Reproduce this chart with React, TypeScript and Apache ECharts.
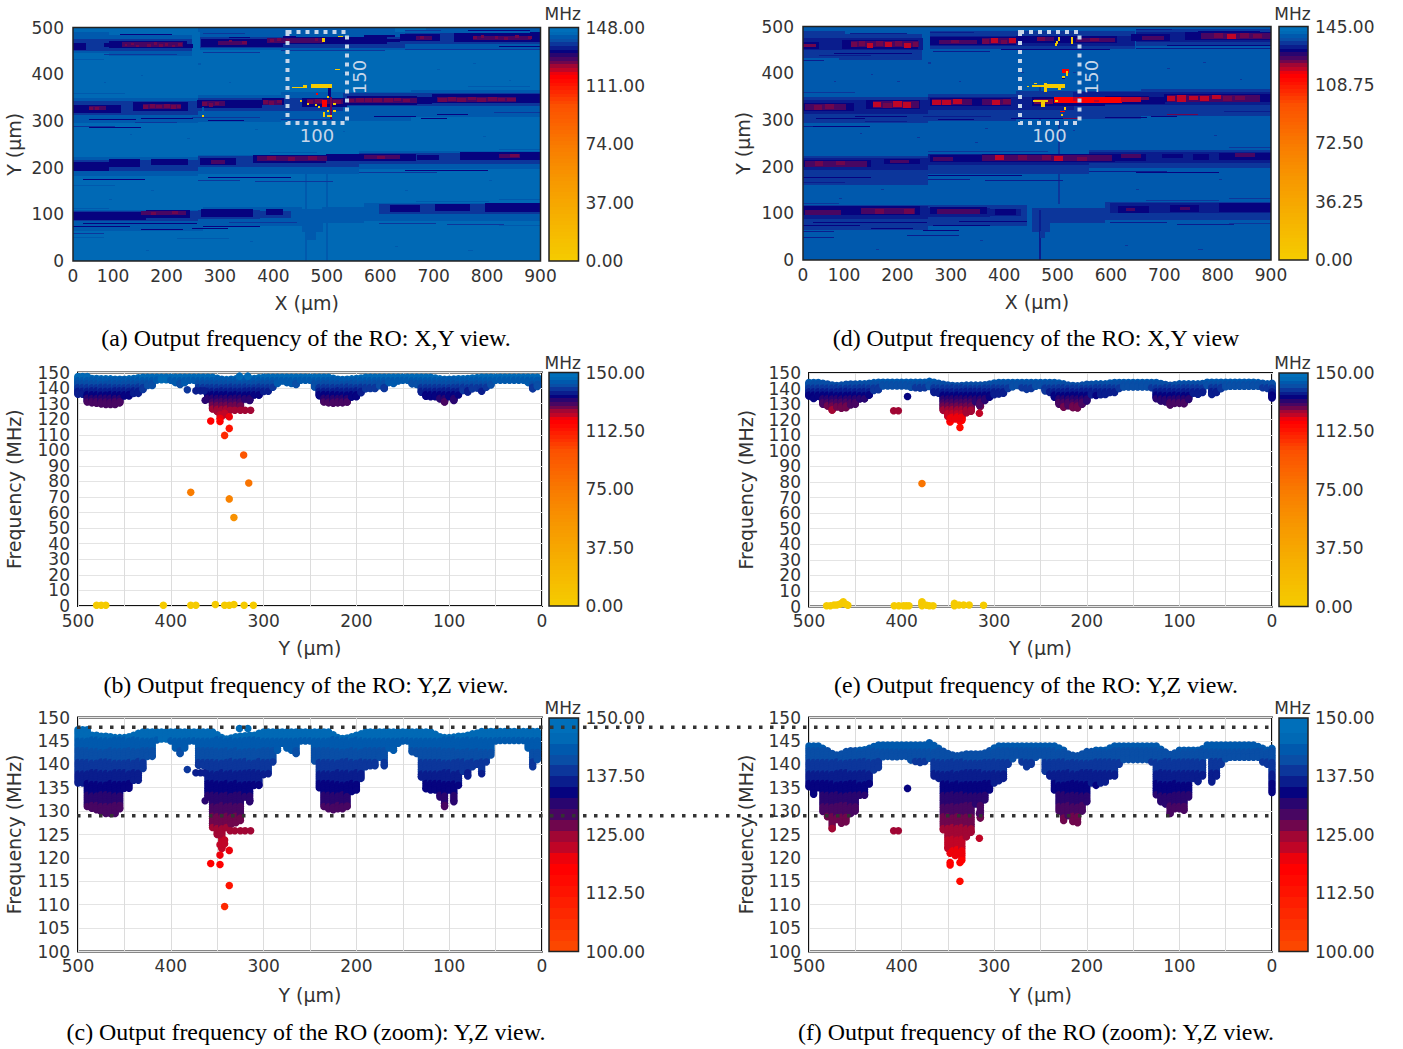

import React, { useEffect, useRef } from "react";
import * as echarts from "echarts";

// ---------- colour scale (MHz on a 0-150 scale, colour) ----------
const paletteValues = [0, 25, 50, 75, 100, 118, 120, 122, 125, 127, 129, 132, 134.5, 137, 139, 141, 144, 146, 150];
const paletteColors = ["#F5CC00", "#F6B400", "#F79A00", "#F97A00", "#FC5000", "#FF0000", "#FF0000", "#CC0420", "#AA0630", "#7E0645", "#55065C", "#30066C", "#06007E", "#0A1C8C", "#0C3098", "#0C4AA4", "#0058AC", "#0068B4", "#0072BC"];
const paletteSteps = 64;

// ---------- heat map runs: x from, x to, y from, y to, level ----------
const levelsA = [144.5, 142, 138.2, 132.7, 126.5, 116, 0, 121, 129.2];
const levelsD = [139.5, 135.5, 133, 130, 122.8, 114, 0, 119.5, 126.7];

const heatRunsA = [
  [0, 900, 0, 500, 0],
  [240, 620, 492, 500, 1], [680, 900, 494, 500, 1],
  [0, 70, 445, 490, 1], [70, 230, 440, 485, 1], [245, 640, 452, 490, 1], [640, 900, 455, 495, 1],
  [0, 240, 296, 350, 1], [240, 400, 298, 356, 1], [400, 650, 300, 362, 1], [650, 900, 308, 366, 1],
  [0, 240, 182, 222, 1], [240, 550, 186, 226, 1], [550, 900, 197, 236, 1],
  [0, 250, 66, 110, 1], [250, 440, 74, 115, 1], [440, 480, 62, 112, 1], [480, 560, 80, 115, 1], [560, 900, 86, 124, 1],
  [447, 451, 0, 210, 1], [487, 491, 0, 210, 1], [450, 468, 45, 62, 1],
  [60, 64, 380, 383, 1], [130, 134, 395, 398, 1], [240, 245, 420, 424, 1], [300, 304, 380, 383, 1], [520, 525, 400, 403, 1], [700, 706, 408, 411, 1], [770, 776, 420, 423, 1], [840, 844, 385, 388, 1],
  [110, 114, 270, 273, 1], [220, 225, 260, 263, 1], [350, 355, 280, 283, 1], [520, 524, 275, 278, 1], [790, 796, 265, 268, 1], [800, 806, 170, 173, 1], [150, 156, 150, 153, 1], [70, 76, 130, 133, 1],
  [640, 646, 150, 153, 1], [340, 346, 40, 43, 1], [620, 626, 30, 33, 1], [140, 146, 20, 23, 1], [760, 770, 20, 23, 1],
  [0, 230, 450, 476, 2], [245, 640, 457, 480, 2], [640, 900, 464, 488, 2],
  [0, 240, 314, 343, 2], [240, 520, 320, 348, 2], [520, 900, 332, 360, 2],
  [0, 240, 192, 216, 2], [240, 550, 200, 224, 2], [550, 900, 208, 232, 2],
  [0, 240, 84, 106, 2], [240, 360, 90, 110, 2], [360, 420, 94, 108, 2], [590, 900, 100, 122, 2],
  // thin streaks
  [90, 190, 484, 486, 3], [60, 200, 442, 444, 2], [250, 360, 446, 448, 2], [400, 600, 450, 452, 2], [640, 900, 452, 454, 2],
  [250, 330, 486, 488, 2], [640, 710, 492, 494, 2], [760, 880, 492, 494, 3], [0, 60, 430, 432, 1], [820, 900, 458, 460, 3],
  [30, 120, 302, 304, 3], [130, 230, 304, 306, 3], [0, 80, 288, 290, 2], [30, 130, 286, 288, 3], [260, 330, 300, 302, 3],
  [120, 200, 296, 298, 2], [580, 660, 308, 310, 3], [700, 760, 312, 314, 3], [670, 720, 304, 306, 3], [810, 900, 318, 320, 2],
  [230, 360, 306, 308, 2], [400, 500, 302, 304, 2], [0, 100, 358, 360, 1], [760, 880, 372, 374, 1],
  [20, 140, 174, 176, 3], [240, 320, 172, 174, 2], [260, 420, 178, 180, 3], [350, 500, 170, 172, 2], [0, 80, 160, 162, 1],
  [550, 700, 188, 190, 2], [640, 800, 192, 194, 3], [820, 900, 238, 240, 1], [380, 470, 232, 234, 1],
  [0, 70, 112, 114, 1], [0, 110, 74, 76, 3], [20, 240, 80, 82, 3], [0, 60, 58, 60, 2], [130, 210, 66, 68, 3], [230, 300, 68, 70, 3],
  [250, 360, 74, 76, 3], [300, 430, 82, 84, 2], [590, 700, 80, 82, 2], [720, 830, 78, 80, 2], [820, 900, 76, 78, 1],
  [660, 800, 126, 128, 1], [820, 900, 130, 132, 1], [0, 60, 50, 52, 1], [200, 300, 48, 50, 1],
  // dark bands
  [0, 25, 452, 466, 3], [70, 220, 455, 471, 3], [247, 405, 459, 476, 3], [405, 605, 466, 480, 3], [630, 707, 470, 486, 3], [733, 900, 468, 488, 3],
  [60, 75, 458, 466, 3], [220, 232, 456, 464, 3], [300, 340, 476, 479, 3], [405, 430, 478, 482, 3], [560, 620, 478, 483, 3], [605, 630, 470, 476, 3], [880, 900, 486, 490, 3],
  [0, 93, 318, 335, 3], [116, 222, 321, 340, 3], [238, 363, 328, 345, 3], [363, 405, 332, 348, 3], [440, 527, 331, 350, 3], [527, 662, 335, 354, 3], [662, 691, 336, 352, 3], [691, 900, 338, 357, 3],
  [0, 70, 194, 213, 3], [70, 130, 201, 218, 3], [150, 222, 205, 218, 3], [245, 315, 204, 220, 3], [347, 488, 209, 226, 3], [488, 662, 214, 230, 3], [662, 705, 216, 226, 3], [745, 900, 216, 233, 3],
  [0, 141, 87, 105, 3], [141, 225, 92, 110, 3], [247, 347, 94, 112, 3], [372, 405, 98, 111, 3], [611, 668, 103, 119, 3], [697, 765, 108, 122, 3], [794, 900, 105, 124, 3],
  // purple cores
  [95, 212, 457, 468, 8], [280, 335, 463, 472, 8], [373, 480, 467, 477, 8], [660, 690, 473, 481, 8], [770, 882, 474, 482, 8],
  [30, 62, 322, 331, 8], [135, 208, 326, 337, 8], [248, 292, 331, 342, 8], [365, 402, 335, 345, 8], [450, 520, 335, 346, 8], [530, 662, 339, 350, 8], [700, 852, 342, 352, 8],
  [355, 490, 213, 224, 8], [560, 630, 219, 227, 8], [820, 860, 221, 229, 8], [265, 292, 208, 216, 8], [130, 216, 97, 106, 8],
  // maroon parts
  [100, 104, 460, 464, 4], [112, 118, 462, 467, 4], [122, 128, 458, 463, 4], [142, 150, 459, 465, 4], [155, 160, 462, 468, 4], [165, 172, 458, 464, 4], [178, 184, 461, 467, 4], [190, 196, 458, 463, 4], [202, 210, 460, 466, 4],
  [300, 306, 468, 473, 4], [325, 335, 466, 472, 4], [380, 388, 468, 475, 4], [392, 400, 470, 477, 4], [410, 418, 470, 476, 4], [465, 470, 472, 478, 4], [668, 675, 476, 482, 4],
  [770, 778, 476, 482, 4], [785, 790, 478, 484, 4], [812, 818, 476, 482, 4], [830, 838, 474, 480, 4], [850, 858, 477, 483, 4], [875, 882, 476, 482, 4],
  [30, 38, 324, 330, 4], [42, 50, 322, 329, 4], [135, 145, 326, 334, 4], [148, 158, 328, 336, 4], [160, 172, 327, 333, 4], [175, 186, 329, 337, 4], [188, 198, 326, 334, 4], [200, 208, 329, 335, 4],
  [248, 258, 333, 341, 4], [262, 270, 331, 339, 4], [274, 282, 334, 341, 4], [365, 375, 337, 345, 4], [378, 388, 335, 343, 4], [392, 402, 337, 344, 4],
  [450, 462, 336, 344, 4], [465, 480, 338, 346, 4], [500, 515, 336, 344, 4], [530, 542, 340, 347, 4], [545, 560, 342, 350, 4], [562, 575, 339, 348, 4], [578, 595, 342, 350, 4], [598, 615, 340, 348, 4], [618, 632, 343, 350, 4], [635, 648, 340, 347, 4],
  [702, 720, 342, 350, 4], [722, 738, 344, 352, 4], [740, 758, 342, 350, 4], [760, 775, 344, 351, 4], [778, 795, 342, 350, 4], [798, 815, 344, 352, 4], [818, 832, 342, 349, 4], [835, 852, 344, 350, 4],
  [374, 392, 216, 224, 4], [414, 428, 215, 223, 4], [452, 470, 216, 224, 4], [585, 600, 219, 225, 4],
  [842, 860, 222, 229, 4], [150, 160, 99, 105, 4], [190, 202, 100, 106, 4],
  // spots in the failing region
  [422, 443, 371, 373, 6], [443, 451, 371, 377, 6], [458, 498, 371, 380, 6], [490, 495, 352, 371, 3],
  [480, 485, 469, 478, 6], [510, 519, 479, 482, 6], [505, 514, 408, 411, 6], [468, 472, 355, 359, 5],
  [479, 488, 330, 345, 5], [494, 498, 305, 352, 4], [437, 440, 340, 344, 6], [450, 453, 334, 338, 6], [465, 469, 332, 336, 6], [472, 476, 328, 332, 6],
  [489, 493, 350, 354, 6], [500, 505, 334, 338, 6], [489, 493, 319, 323, 6], [500, 505, 319, 323, 6], [481, 484, 309, 320, 6], [489, 498, 309, 313, 6],
  [249, 252, 309, 313, 6], [249, 252, 314, 330, 1],
];

const heatRunsD = [
  [0, 900, 0, 500, 0],
  [0, 80, 432, 490, 1], [70, 230, 430, 485, 1], [245, 640, 452, 490, 1], [640, 900, 458, 495, 1],
  [0, 240, 294, 350, 1], [240, 410, 298, 356, 1], [410, 650, 302, 362, 1], [650, 900, 308, 366, 1],
  [0, 240, 160, 222, 1], [240, 550, 186, 228, 1], [550, 900, 198, 236, 1],
  [0, 240, 64, 118, 1], [240, 430, 72, 118, 1], [440, 475, 60, 112, 1], [475, 580, 80, 112, 1], [580, 900, 86, 124, 1],
  [453, 457, 0, 108, 2], [490, 493, 120, 300, 1], [453, 457, 300, 370, 1], [456, 466, 48, 62, 1],
  [60, 64, 380, 383, 1], [130, 134, 395, 398, 1], [240, 245, 420, 424, 1], [300, 304, 380, 383, 1], [520, 525, 400, 403, 1], [700, 706, 408, 411, 1], [770, 776, 420, 423, 1], [840, 844, 385, 388, 1],
  [110, 114, 270, 273, 1], [220, 225, 260, 263, 1], [350, 355, 280, 283, 1], [520, 524, 275, 278, 1], [790, 796, 265, 268, 1], [800, 806, 170, 173, 1], [150, 156, 150, 153, 1], [70, 76, 130, 133, 1],
  [640, 646, 150, 153, 1], [340, 346, 40, 43, 1], [620, 626, 30, 33, 1], [140, 146, 20, 23, 1], [760, 770, 20, 23, 1], [420, 426, 400, 403, 1], [180, 186, 380, 383, 1], [330, 336, 250, 253, 1],
  [0, 230, 450, 476, 2], [245, 640, 458, 480, 2], [640, 900, 466, 488, 2],
  [0, 240, 314, 343, 2], [240, 520, 320, 348, 2], [520, 900, 332, 360, 2],
  [0, 240, 192, 218, 2], [240, 550, 202, 226, 2], [550, 900, 208, 232, 2],
  [0, 240, 88, 116, 2], [240, 360, 92, 112, 2], [360, 420, 94, 110, 2], [590, 900, 100, 122, 2],
  // thin streaks
  [90, 200, 484, 487, 2], [60, 210, 442, 444, 3], [250, 360, 446, 448, 2], [380, 590, 450, 452, 3], [640, 900, 452, 454, 2],
  [245, 330, 486, 488, 2], [640, 710, 492, 494, 2], [760, 880, 488, 490, 3], [0, 40, 425, 428, 2], [700, 900, 458, 460, 3], [30, 130, 438, 440, 2],
  [25, 120, 302, 304, 3], [100, 200, 306, 308, 3], [0, 80, 286, 288, 2], [20, 130, 284, 286, 3], [260, 330, 300, 302, 3],
  [120, 200, 296, 298, 2], [580, 660, 304, 306, 3], [700, 760, 310, 312, 4], [670, 720, 306, 308, 3], [810, 900, 318, 320, 2],
  [230, 360, 306, 308, 2], [400, 500, 302, 304, 3], [500, 530, 302, 304, 4], [0, 100, 358, 360, 1],
  [0, 130, 176, 178, 3], [240, 320, 172, 174, 2], [240, 420, 180, 182, 3], [350, 500, 170, 172, 2], [0, 80, 166, 168, 2],
  [550, 700, 188, 190, 2], [640, 800, 186, 188, 3], [820, 900, 240, 242, 1], [240, 470, 232, 234, 1],
  [0, 70, 120, 122, 1], [0, 110, 74, 76, 3], [20, 240, 80, 82, 3], [0, 60, 60, 62, 2], [130, 210, 66, 68, 3], [230, 300, 62, 64, 3],
  [250, 360, 74, 76, 3], [300, 430, 82, 84, 3], [590, 700, 80, 82, 2], [720, 830, 76, 78, 2], [820, 900, 78, 80, 1],
  [660, 800, 126, 128, 1], [820, 900, 130, 132, 1], [0, 60, 48, 50, 2], [200, 300, 52, 54, 2],
  // dark bands
  [0, 30, 450, 466, 3], [75, 222, 452, 471, 3], [245, 410, 460, 478, 3], [410, 605, 466, 480, 3], [630, 705, 470, 484, 3], [735, 900, 470, 488, 3],
  [0, 98, 318, 336, 3], [122, 225, 322, 342, 3], [245, 400, 328, 346, 3], [440, 580, 330, 350, 3], [580, 665, 335, 352, 3], [665, 695, 336, 350, 3], [695, 900, 338, 356, 3],
  [0, 130, 198, 214, 3], [155, 225, 205, 216, 3], [245, 345, 208, 224, 3], [345, 600, 208, 226, 3], [600, 660, 214, 228, 3], [690, 730, 218, 226, 3], [750, 780, 216, 228, 3], [800, 900, 215, 230, 3],
  [0, 225, 95, 115, 3], [245, 355, 97, 113, 3], [370, 410, 97, 110, 3], [605, 665, 102, 116, 3], [705, 760, 103, 118, 3], [800, 900, 103, 122, 3],
  // purple cores
  [92, 222, 455, 468, 8], [262, 335, 464, 472, 8], [345, 410, 463, 476, 8], [450, 482, 469, 477, 8], [525, 600, 468, 476, 8], [652, 695, 472, 480, 8], [765, 900, 474, 486, 8],
  [4, 82, 321, 333, 8], [135, 224, 325, 340, 8], [248, 325, 331, 344, 8], [345, 400, 332, 344, 8], [445, 482, 334, 345, 8], [700, 878, 340, 354, 8],
  [4, 124, 200, 213, 8], [168, 205, 208, 214, 8], [250, 288, 212, 220, 8], [345, 595, 212, 224, 8], [612, 650, 218, 226, 8], [830, 868, 221, 229, 8],
  [4, 74, 98, 108, 8], [112, 215, 100, 112, 8], [258, 340, 100, 110, 8], [622, 640, 106, 112, 8], [725, 745, 107, 114, 8],
  // maroon and crimson parts
  [0, 25, 455, 462, 4], [92, 104, 456, 466, 4], [108, 120, 458, 468, 4], [124, 136, 455, 465, 7], [140, 154, 457, 468, 4], [158, 172, 455, 466, 7], [176, 190, 458, 468, 4], [194, 208, 455, 465, 7], [212, 222, 457, 467, 4],
  [345, 358, 463, 474, 4], [362, 375, 465, 476, 7], [380, 392, 464, 472, 4], [396, 410, 466, 476, 7], [285, 300, 466, 472, 4], [450, 465, 469, 477, 4], [552, 570, 470, 476, 4],
  [790, 808, 476, 486, 4], [815, 832, 474, 484, 7], [840, 858, 476, 486, 4], [865, 882, 475, 483, 4],
  [22, 38, 321, 331, 4], [42, 60, 323, 333, 4],
  [135, 150, 327, 338, 7], [153, 170, 325, 336, 4], [173, 190, 328, 340, 7], [193, 208, 326, 338, 7],
  [248, 265, 332, 343, 7], [268, 285, 331, 342, 7], [288, 305, 333, 344, 7], [364, 380, 332, 342, 7], [384, 400, 334, 344, 4], [445, 482, 334, 345, 4],
  [482, 612, 336, 349, 5], [520, 532, 340, 349, 7], [560, 570, 337, 342, 7], [612, 650, 340, 350, 7], [650, 665, 342, 349, 4],
  [700, 716, 342, 352, 7], [720, 738, 340, 354, 7], [742, 760, 343, 352, 7], [764, 782, 341, 352, 7], [786, 804, 344, 353, 7], [808, 826, 341, 351, 4], [830, 850, 343, 352, 4],
  [24, 40, 203, 213, 4], [64, 82, 203, 212, 4], [370, 388, 214, 224, 7], [414, 432, 214, 224, 4], [460, 478, 214, 224, 4], [482, 500, 212, 222, 7], [526, 545, 212, 221, 4],
  [138, 155, 100, 110, 4], [195, 215, 100, 110, 4],
  // spots in the failing region
  [470, 505, 368, 376, 6], [440, 470, 370, 374, 6], [430, 433, 370, 372, 6], [445, 450, 375, 378, 6], [463, 468, 360, 380, 6], [490, 495, 365, 373, 6],
  [490, 494, 470, 478, 6], [486, 490, 464, 470, 6], [484, 487, 458, 464, 6], [515, 518, 462, 478, 6],
  [498, 512, 400, 408, 5], [505, 509, 395, 405, 6], [498, 503, 390, 395, 6], [498, 504, 387, 390, 3],
  [443, 472, 338, 342, 6], [458, 466, 328, 340, 6], [485, 490, 338, 342, 6], [501, 505, 322, 328, 6], [496, 500, 307, 312, 6], [495, 505, 316, 318, 5],
];

// ---------- Y,Z views: column every 5 um from Y=500 down ----------
const columnYs = [500, 495, 490, 485, 480, 475, 470, 465, 460, 455, 450, 445, 440, 435, 430, 425, 420, 415, 410, 405, 400, 395, 390, 385, 380, 375, 370, 365, 360, 355, 350, 345, 340, 335, 330, 325, 320, 315, 310, 305, 300, 295, 290, 285, 280, 275, 270, 265, 260, 255, 250, 245, 240, 235, 230, 225, 220, 215, 210, 205, 200, 195, 190, 185, 180, 175, 170, 165, 160, 155, 150, 145, 140, 135, 130, 125, 120, 115, 110, 105, 100, 95, 90, 85, 80, 75, 70, 65, 60, 55, 50, 45, 40, 35, 30, 25, 20, 15, 10, 5, 0];

const upperLeft = [147.4, 147.4, 147.4, 146.2, 146.2, 146, 146, 145.9, 145.7, 145.7, 145.7, 145.9, 146.2, 146.6, 146.9, 146.9, 146.9, 146.9, 146.9, 146.9, 146.9, 146.9, 146.9, 146.9, 146.9, 146.9, 146.9, 146.9, 146.9, 146.9, 146.3, 145.7, 145.4, 145.6, 145.9, 146, 146.1, 146.2, 146.2, 146.6, 146.9, 146.9, 146.9, 146.9, 146.9, 146.9, 146.9, 146.9, 146.9, 146.9, 146.9, 146.9, 146.9, 146.9, 146.9, 146.3, 145.7, 145.5, 145.6, 145.9, 146.2, 146.5, 146.9, 146.9, 146.9, 146.9, 146.9, 146.9, 146.9, 146.9, 146.9, 146.9, 146.9, 146.9, 146.9, 146.9, 146.9, 146.4, 145.9, 145.7, 145.7, 145.8, 146, 146, 146.2, 146.5, 146.7, 147, 147, 147, 147, 147, 147, 147, 147, 147, 147, 147, 147, 147];
const lowerLeft = [136, 136, 131, 130.6, 130.3, 129.9, 129.5, 129.5, 129.5, 130.5, 134.9, 134.9, 136.6, 136.6, 139.1, 141.7, 141.7, 145.2, 145.4, 145.4, 145, 143.5, 142.3, 143.5, 145, 145, 139.8, 139.8, 133, 126.5, 125, 122, 126.5, 127.2, 127.5, 128, 133, 132, 135.5, 135.5, 137.8, 138, 140.5, 143, 144.5, 143.5, 143, 142.3, 145, 145, 145, 140.7, 135, 131, 130.5, 130.3, 130.5, 130.5, 131, 134.2, 134.5, 137, 139.5, 139.7, 139.7, 141.5, 139.7, 143.5, 143, 144.5, 145, 145, 142.7, 142.3, 137.3, 134.8, 134.5, 134.5, 133, 131, 134.5, 132, 135.5, 138.5, 137.5, 139.5, 140, 138, 140.5, 142, 145, 145.1, 145.1, 145.1, 145.1, 145.1, 145.1, 143.5, 139.5, 141];
const upperRight = [143.9, 143.9, 143.9, 143.4, 142.9, 142.3, 142, 142.2, 142.7, 142.9, 142.9, 143, 143.1, 143.4, 143.8, 144.1, 144.1, 144.1, 144.1, 144.1, 144.1, 144.1, 144.1, 144.1, 144.1, 144.1, 144.6, 144, 143.4, 142.8, 142.3, 142, 141.8, 142, 142.2, 142.2, 142.2, 142.2, 142.4, 142.9, 143.5, 143.9, 143.9, 143.9, 143.9, 143.9, 143.9, 143.9, 143.9, 143.9, 143.9, 143.9, 143.9, 143.9, 143.5, 143, 142.2, 141.9, 141.8, 142.2, 142.7, 142.7, 143, 143, 143, 143.5, 143.9, 143.9, 143.9, 143.9, 143.9, 143.9, 143.9, 143.9, 143.9, 143.9, 143.2, 142.6, 142.1, 142.4, 143, 143, 143, 143, 143, 143.3, 144.1, 144.1, 144.1, 144.1, 144.1, 144.1, 144.1, 144.1, 144.1, 144.1, 144.1, 143.8, 143.4, 143, 143.4];
const lowerRight = [135.2, 133.6, 135, 129.9, 128.8, 126.3, 128.2, 127.4, 127.7, 129.5, 130, 133.4, 133.4, 135.8, 138.8, 139.3, 141.6, 141.7, 141.6, 141.6, 141.7, 141.7, 140.9, 140.6, 140.4, 140.6, 141.3, 137.5, 137, 126, 122, 121.5, 121, 119.5, 124.5, 125.5, 131.5, 128.5, 132.4, 134.5, 136, 136.5, 137, 140, 141.2, 142, 140.5, 139.5, 140, 141.5, 142, 138.5, 137.5, 134.5, 130, 128, 129, 127.8, 127.5, 130, 132, 136, 135.5, 136, 136.2, 137.5, 137.5, 140, 141, 141, 141, 141, 141, 141, 140.5, 133.5, 132, 131.5, 129.5, 130.5, 130.5, 130.2, 133, 137, 136.3, 137.5, 142, 136.2, 137.5, 140, 141.2, 141.5, 141.5, 141.5, 141.5, 141.5, 141.5, 141.5, 140.5, 140, 134];

const isolatedLeft = [
  [326, 147.65], [317, 147.65], [382.2, 138.9], [373, 138.2], [368, 138.2], [364, 138.2], [315, 132.3], [363, 132.2],
  [336, 125.8], [331, 125.8], [325, 125.8], [320, 125.8], [314, 125.8], [347, 125], [342, 123.8], [347, 122.8], [342, 123], [337, 121.6],
  [347, 120.6], [357, 118.8], [347, 118.6], [337, 114.1], [342, 109.6],
];
const extraLeftFull = [
  [321.5, 97], [316, 79], [378.5, 73], [337, 68.8], [332, 56.8],
  [480, 0.5], [475, 0.5], [470, 0.5], [408, 0.5], [378.5, 0.5], [373, 0.5], [352, 1], [342, 0.5], [337, 0.5], [332, 1], [321, 0.5], [311, 0.5],
];
const isolatedRight = [
  [393.6, 134.85], [408.6, 125.8], [403.5, 125.8], [316, 124.2], [337, 115], [347.6, 119], [347.6, 118.5], [337, 119], [347.6, 121], [337, 121], [342, 120.5], [316, 129.5],
];
const extraRightFull = [
  [378, 79],
  [481, 0.5], [477, 0.5], [473, 1], [470, 1], [467, 1.5], [465, 2], [463, 3], [460, 1.5], [458, 0.8],
  [408, 0.5], [403, 0.5], [398, 0.5], [395, 0.5], [392, 0.5],
  [378, 0.5], [378, 1.5], [378, 2.5], [378, 3], [373, 0.8], [370, 0.5], [366, 0.5],
  [343, 0.5], [343, 2], [338, 1], [333, 1], [327, 1], [311.5, 0.8],
];

// ---------- axis tick settings ----------
const frequencyTicksFull = 10;
const frequencyTicksZoom = 5;
const xTickValues = [100, 200, 300, 400, 500, 600, 700, 800, 900];

// ---------- captions and layout ----------
const captionFont = '"Liberation Serif", serif';
const sansFont = '"DejaVu Sans", sans-serif';
const textColor = "#333333";

function paletteColor(v: number): string {
  const step = 150 / paletteSteps;
  const q = Math.min(paletteSteps - 1, Math.max(0, Math.floor(v / step))) * step + step / 2;
  let i = 0;
  while (i < paletteValues.length - 2 && q > paletteValues[i + 1]) i++;
  const t = (q - paletteValues[i]) / (paletteValues[i + 1] - paletteValues[i]);
  const a = paletteColors[i], b = paletteColors[i + 1];
  const ch = (h: string, o: number) => parseInt(h.substr(o, 2), 16);
  const mix = [1, 3, 5].map((o) => Math.round(ch(a, o) + (ch(b, o) - ch(a, o)) * t));
  return `rgb(${mix[0]},${mix[1]},${mix[2]})`;
}

function rectRender(colorOf: (v: number) => string) {
  return (_p: any, api: any) => {
    const p0 = api.coord([api.value(0), api.value(2)]);
    const p1 = api.coord([api.value(1), api.value(3)]);
    const x = Math.round(Math.min(p0[0], p1[0]));
    const y = Math.round(Math.min(p0[1], p1[1]));
    const w = Math.max(1, Math.round(Math.abs(p1[0] - p0[0])));
    const h = Math.max(1, Math.round(Math.abs(p1[1] - p0[1])));
    return { type: "rect", shape: { x, y, width: w, height: h }, style: { fill: colorOf(api.value(4)) } };
  };
}

function columnPoints(upper: number[], lower: number[]) {
  const pts: number[][] = [];
  upper.forEach((top, k) => {
    for (let f = top; f > lower[k]; f -= 0.5) pts.push([columnYs[k], f]);
    pts.push([columnYs[k], lower[k]]);
  });
  return pts;
}

type Box = { left: number; top: number; width: number; height: number };
const axisLabelBase = { color: textColor, fontFamily: sansFont, fontSize: 17 };
const nameBase = { color: textColor, fontFamily: sansFont, fontSize: 19 };

export default function App() {
  const ref = useRef<HTMLDivElement>(null);
  useEffect(() => {
    document.body.style.margin = "0";
    const chart = echarts.init(ref.current!, undefined, { renderer: "svg", width: 1403, height: 1049 });
    const grids: any[] = [], xAxes: any[] = [], yAxes: any[] = [], series: any[] = [], graphics: any[] = [];

    const addFrame = (b: Box, lw: number) =>
      graphics.push({ type: "rect", z: 50, silent: true, shape: { x: b.left, y: b.top, width: b.width, height: b.height }, style: { fill: "none", stroke: "#222", lineWidth: lw } });

    const addColorbar = (b: Box, min: number, max: number, interval: number, mhzY: number, labelPad: number) => {
      const i = grids.length;
      grids.push({ ...b, outerBoundsMode: "none" });
      xAxes.push({ gridIndex: i, type: "value", min: 0, max: 1, show: false });
      yAxes.push({
        gridIndex: i, type: "value", position: "right", min, max, interval,
        axisLine: { show: false }, axisTick: { show: false }, splitLine: { show: false },
        axisLabel: { ...axisLabelBase, margin: 7, padding: [labelPad, 0, 0, 0], showMinLabel: true, showMaxLabel: true, formatter: (v: number) => v.toFixed(2) },
      });
      const k = 150 / max;
      const step = 150 / paletteSteps / (min === 0 ? k : 1);
      const cells: number[][] = [];
      for (let v = min; v < max - 1e-6; v += step) cells.push([0, 1, v, Math.min(max, v + step), v + step / 2]);
      series.push({
        type: "custom", xAxisIndex: i, yAxisIndex: i, silent: true, clip: true,
        renderItem: rectRender((v) => paletteColor(v * (min === 0 ? k : 1))),
        encode: { x: [0, 1], y: [2, 3] }, data: cells,
      });
      addFrame(b, 1.5);
      graphics.push({ type: "text", z: 60, silent: true, x: b.left + b.width / 2 - 1, y: mhzY, style: { text: "MHz", fill: textColor, font: `17px ${sansFont}`, textAlign: "center", textVerticalAlign: "middle" } });
    };

    const addHeat = (b: Box, runs: number[][], levels: number[], max: number, xMin: number, nameGap: number, cb: Box, mhzY: number) => {
      const i = grids.length;
      grids.push({ ...b, outerBoundsMode: "none" });
      const toAxis = (x: number) => xMin + (x * (900 - xMin)) / 900;
      xAxes.push({
        gridIndex: i, type: "value", min: xMin, max: 900, name: "X (µm)", nameLocation: "middle", nameGap: 32, nameTextStyle: nameBase,
        axisLine: { show: false }, axisTick: { show: false }, splitLine: { show: false },
        axisLabel: { ...axisLabelBase, margin: 6, customValues: [xMin, ...xTickValues], showMinLabel: true, showMaxLabel: true, formatter: (v: number) => (v === xMin ? "0" : String(v)) },
      });
      yAxes.push({
        gridIndex: i, type: "value", min: 0, max: 500, interval: 100, name: "Y (µm)", nameLocation: "middle", nameGap, nameTextStyle: nameBase,
        axisLine: { show: false }, axisTick: { show: false }, splitLine: { show: false }, axisLabel: { ...axisLabelBase, margin: 9, showMinLabel: true, showMaxLabel: true },
      });
      series.push({
        type: "custom", xAxisIndex: i, yAxisIndex: i, silent: true, clip: true,
        renderItem: rectRender((v) => paletteColor((v * 150) / max)),
        encode: { x: [0, 1], y: [2, 3] },
        data: runs.map((r) => [toAxis(r[0]), toAxis(r[1]), r[2], r[3], levels[r[4]]]),
      });
      addFrame(b, 1.5);
      addColorbar(cb, 0, max, max / 4, mhzY, 1);
    };

    const addScatter = (b: Box, pts: number[][], min: number, interval: number, nameGap: number, xNameGap: number, cb: Box, mhzY: number) => {
      const i = grids.length;
      const dense = interval === frequencyTicksFull;
      grids.push({ ...b, show: true, borderColor: "#111", borderWidth: 2, backgroundColor: "transparent", outerBoundsMode: "none" });
      xAxes.push({
        gridIndex: i, type: "value", inverse: true, min: 0, max: 500, interval: 50, name: "Y (µm)", nameLocation: "middle", nameGap: xNameGap, nameTextStyle: nameBase,
        axisLine: { show: false }, axisTick: { show: false }, splitLine: { show: true, lineStyle: { color: "#dcdcdc", width: 1 } },
        axisLabel: { ...axisLabelBase, margin: 6, showMinLabel: true, showMaxLabel: true, formatter: (v: number) => (v % 100 === 0 ? String(v) : "") },
      });
      yAxes.push({
        gridIndex: i, type: "value", min, max: 150, interval, name: "Frequency (MHz)", nameLocation: "middle", nameGap, nameTextStyle: nameBase,
        axisLine: { show: false }, axisTick: { show: false }, splitLine: { show: true, lineStyle: { color: "#e4e4e4", width: 1 } },
        axisLabel: { ...axisLabelBase, margin: 8, showMinLabel: !dense, showMaxLabel: !dense, hideOverlap: false },
      });
      if (dense) {
        // end labels of a crowded axis: the library would drop a neighbour otherwise
        [[String(min), b.top + b.height], ["150", b.top]].forEach(([text, y]) =>
          graphics.push({ type: "text", z: 60, silent: true, x: b.left - 8, y, style: { text, fill: textColor, font: `17px ${sansFont}`, textAlign: "right", textVerticalAlign: "middle" } })
        );
      }
      series.push({
        type: "scatter", xAxisIndex: i, yAxisIndex: i, silent: true, clip: false, symbol: "circle", symbolSize: 7.5,
        itemStyle: { opacity: 1, color: (p: any) => paletteColor(p.value[1]) }, data: pts,
      });
      addColorbar(cb, min, 150, (150 - min) / 4, mhzY, 3);
    };

    const leftCols = columnPoints(upperLeft, lowerLeft);
    const rightCols = columnPoints(upperRight, lowerRight);

    addHeat({ left: 73, top: 27.5, width: 467.5, height: 233.5 }, heatRunsA, levelsA, 148, 25, 50, { left: 549, top: 27.5, width: 29.5, height: 233.5 }, 14);
    addHeat({ left: 803, top: 26.5, width: 468, height: 233.5 }, heatRunsD, levelsD, 145, 23, 51, { left: 1279, top: 26.5, width: 29, height: 233.5 }, 14);
    addScatter({ left: 78, top: 372.5, width: 464, height: 233.5 }, [...leftCols, ...isolatedLeft, ...extraLeftFull], 0, frequencyTicksFull, 55, 32, { left: 549, top: 372.5, width: 29.5, height: 233.5 }, 363);
    addScatter({ left: 809, top: 373, width: 463, height: 233.5 }, [...rightCols, ...isolatedRight, ...extraRightFull], 0, frequencyTicksFull, 54, 32, { left: 1279, top: 373, width: 29, height: 233.5 }, 363);
    addScatter({ left: 78, top: 717.5, width: 464, height: 234 }, [...leftCols, ...isolatedLeft], 100, frequencyTicksZoom, 55, 34, { left: 549, top: 718, width: 29.5, height: 233.5 }, 708);
    addScatter({ left: 809, top: 717.5, width: 463, height: 234 }, [...rightCols, ...isolatedRight], 100, frequencyTicksZoom, 54, 34, { left: 1279, top: 718, width: 29, height: 233.5 }, 708);

    // failing-region boxes
    const boxColor = "#c6d6ea";
    [
      { x: 287.5, w: 59.5, tx: 317, ty: 135.5, rx: 359 },
      { x: 1020, w: 59.5, tx: 1049.5, ty: 135.5, rx: 1091.5 },
    ].forEach((d) => {
      graphics.push({ type: "rect", z: 70, silent: true, shape: { x: d.x, y: 32, width: d.w, height: 91 }, style: { fill: "none", stroke: boxColor, lineWidth: 4, lineDash: [4, 5] } });
      graphics.push({ type: "text", z: 70, silent: true, x: d.tx, y: d.ty, style: { text: "100", fill: boxColor, font: `18px ${sansFont}`, textAlign: "center", textVerticalAlign: "middle" } });
      graphics.push({ type: "text", z: 70, silent: true, x: d.rx, y: 77, rotation: Math.PI / 2, style: { text: "150", fill: boxColor, font: `18px ${sansFont}`, textAlign: "center", textVerticalAlign: "middle" } });
    });

    // long dotted guides
    [727.3, 815.7].forEach((y) =>
      graphics.push({ type: "line", z: 80, silent: true, shape: { x1: 77, y1: y, x2: 1272, y2: y }, style: { stroke: "#333", lineWidth: 3.5, lineDash: [3.5, 7.5] } })
    );

    // captions
    [
      ["(a) Output frequency of the RO: X,Y view.", 306, 338],
      ["(b) Output frequency of the RO: Y,Z view.", 306, 684.5],
      ["(c) Output frequency of the RO (zoom): Y,Z view.", 306, 1032],
      ["(d) Output frequency of the RO: X,Y view", 1036, 338],
      ["(e) Output frequency of the RO: Y,Z view.", 1036, 684.5],
      ["(f) Output frequency of the RO (zoom): Y,Z view.", 1036, 1032],
    ].forEach(([text, x, y]) =>
      graphics.push({ type: "text", z: 60, silent: true, x, y, style: { text, fill: "#000", font: `23.9px ${captionFont}`, textAlign: "center", textVerticalAlign: "middle" } })
    );

    chart.setOption({
      animation: false,
      backgroundColor: "#ffffff",
      grid: grids,
      xAxis: xAxes,
      yAxis: yAxes,
      series,
      graphic: { elements: graphics },
    });
    return () => chart.dispose();
  }, []);
  return <div ref={ref} style={{ position: "absolute", left: 0, top: 0, width: 1403, height: 1049 }} />;
}
